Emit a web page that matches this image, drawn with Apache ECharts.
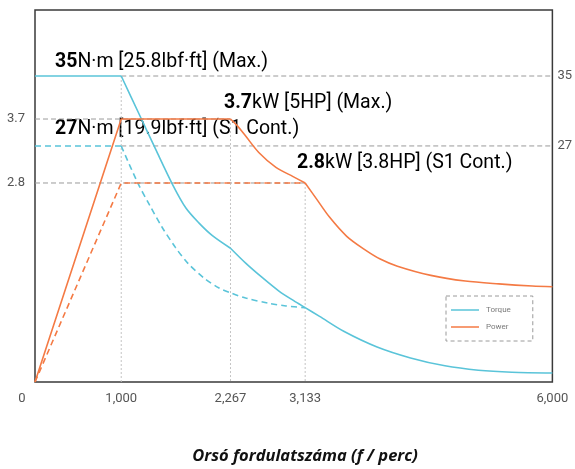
<!DOCTYPE html>
<html>
<head>
<meta charset="utf-8">
<script src="https://cdn.jsdelivr.net/npm/echarts@6/dist/echarts.min.js"></script>
<style>
  html, body { margin: 0; padding: 0; background: #fff; }
  #chart { width: 575px; height: 469px; }
</style>
</head>
<body>
<div id="chart"></div>
<script>
// Axis ticks
const rpmTicks = [0, 1000, 2267, 3133, 6000];
const powerTicks = [2.8, 3.7];
const torqueTicks = [27, 35];

// Rated values
const torqueMax = 35, torqueMaxImp = 25.8;
const torqueCont = 27, torqueContImp = 19.9;
const powerMax = 3.7, powerMaxHp = 5;
const powerCont = 2.8, powerContHp = 3.8;

// Torque (N·m) vs spindle speed (rpm), maximum
const torqueMaxFlat = [[0, 35], [1000, 35]];
const torqueMaxDrop = [[1000, 35], [1200, 30.8], [1400, 26.6], [1600, 22.5], [1750, 19.9], [1900, 18.2],
  [2050, 16.8], [2267, 15.3]];
const torqueMaxTail = [[2267, 15.3], [2443, 13.6], [2641, 11.9], [2829, 10.4], [3000, 9.3], [3133, 8.5],
  [3300, 7.5], [3580, 5.8], [3967, 4.0], [4355, 2.75], [4754, 1.85], [5142, 1.35], [5530, 1.12], [6000, 1.03]];

// Torque, S1 continuous
const torqueContFlat = [[0, 27], [1000, 27]];
const torqueContDrop = [[1000, 27], [1190, 22.8], [1331, 20.2], [1474, 17.7], [1628, 15.4], [1771, 13.6],
  [1959, 11.9], [2135, 10.75], [2267, 10.2], [2443, 9.6], [2712, 9.0], [2911, 8.7], [3133, 8.5]];

// Power (kW), maximum
const powerMaxRise = [[0, 0], [1000, 3.7], [2267, 3.7]];
const powerMaxDrop = [[2267, 3.7], [2350, 3.6], [2443, 3.46], [2595, 3.23], [2794, 3.02], [2993, 2.89], [3133, 2.8]];
const powerMaxTail = [[3133, 2.8], [3262, 2.58], [3415, 2.32], [3615, 2.05], [3815, 1.87], [4003, 1.73],
  [4203, 1.63], [4591, 1.5], [4990, 1.42], [5378, 1.38], [5766, 1.35], [6000, 1.34]];

// Power, S1 continuous
const powerContLine = [[0, 0], [1000, 2.8], [3133, 2.8]];

const CYAN = '#5ac4d9';
const ORANGE = '#f47a44';
const GUIDE = '#9a9a9a';
const DOT = '#c4c4c4';

const chart = echarts.init(document.getElementById('chart'), null, { renderer: 'canvas' });

function curve(name, data, yAxisIndex, color, dashed, smooth) {
  return {
    name, type: 'line', data, yAxisIndex,
    symbol: 'none', smooth: smooth ? 0.3 : false, z: 5,
    lineStyle: { color, width: 1.6, type: dashed ? [6, 4] : 'solid' },
    itemStyle: { color },
    silent: true, animation: false
  };
}

function guide(data, yAxisIndex, dotted) {
  return {
    name: 'guide', type: 'line', data, yAxisIndex, symbol: 'none', z: 2,
    lineStyle: dotted ? { color: DOT, width: 1, type: [2, 2] } : { color: GUIDE, width: 1, type: [5, 3] },
    silent: true, animation: false
  };
}

const labelFont = { color: '#555', fontSize: 13, fontFamily: 'Roboto' };

const option = {
  animation: false,
  grid: { left: 35, right: 22, top: 10, bottom: 87, show: true, borderColor: '#3a3a3a', borderWidth: 1.5 },
  xAxis: {
    type: 'value', min: 0, max: 6000,
    axisLine: { show: false }, axisTick: { show: false }, splitLine: { show: false },
    axisLabel: Object.assign({
      customValues: rpmTicks, margin: 10,
      // the origin label sits a little left of the corner
      formatter: v => v === 0 ? '{z|0}' : v.toLocaleString('en-US'),
      rich: { z: { color: '#555', fontSize: 13, fontFamily: 'Roboto', padding: [0, 26, 0, 0] } }
    }, labelFont)
  },
  yAxis: [
    {
      type: 'value', min: 0, max: 5.234, position: 'left',
      axisLine: { show: false }, axisTick: { show: false }, splitLine: { show: false },
      axisLabel: Object.assign({ customValues: powerTicks, margin: 10, padding: [0, 0, 8, 0] }, labelFont)
    },
    {
      type: 'value', min: 0, max: 42.55, position: 'right',
      axisLine: { show: false }, axisTick: { show: false }, splitLine: { show: false },
      axisLabel: Object.assign({ customValues: torqueTicks, margin: 5, padding: [0, 0, 9, 0] }, labelFont)
    }
  ],
  legend: {
    data: [
      { name: 'Torque', icon: 'rect', itemStyle: { color: CYAN } },
      { name: 'Power', icon: 'rect', itemStyle: { color: ORANGE } }
    ],
    orient: 'vertical', left: 446, top: 296,
    padding: [9, 22, 9, 5], itemGap: 7, itemWidth: 28, itemHeight: 1.5,
    borderColor: '#9a9a9a', borderWidth: 1, borderType: [4, 3], borderRadius: 0,
    textStyle: { fontSize: 8, color: '#7a7a7a', fontFamily: 'Roboto', lineHeight: 10, padding: [0, 0, 0, 2] },
    selectedMode: false
  },
  series: [
    guide([[1000, torqueMax], [6000, torqueMax]], 1),
    guide([[1000, torqueCont], [6000, torqueCont]], 1),
    guide([[0, powerMax], [2267, powerMax]], 0),
    guide([[0, powerCont], [3133, powerCont]], 0),
    guide([[1000, torqueMax], [1000, 0]], 1, true),
    guide([[2267, powerMax], [2267, 0]], 0, true),
    guide([[3133, powerCont], [3133, 0]], 0, true),

    curve('Torque S1', torqueContFlat, 1, CYAN, true, false),
    curve('Torque S1', torqueContDrop, 1, CYAN, true, true),
    curve('Power S1', powerContLine, 0, ORANGE, true, false),

    curve('Torque', torqueMaxFlat, 1, CYAN, false, false),
    curve('Torque', torqueMaxDrop, 1, CYAN, false, true),
    curve('Torque', torqueMaxTail, 1, CYAN, false, true),
    curve('Power', powerMaxRise, 0, ORANGE, false, false),
    curve('Power', powerMaxDrop, 0, ORANGE, false, true),
    curve('Power', powerMaxTail, 0, ORANGE, false, true)
  ]
};

chart.setOption(option);

// Rating annotations
const annoRich = {
  b: { fontSize: 19.5, fontWeight: 'bold', color: '#1b1b1b', fontFamily: 'Roboto' },
  n: { fontSize: 19.5, color: '#3b3848', fontFamily: 'Roboto' }
};
function anno(x, y, bold, rest) {
  return {
    type: 'text', x, y, silent: true,
    style: { text: '{b|' + bold + '}{n|' + rest + '}', rich: annoRich, verticalAlign: 'middle', align: 'left' }
  };
}

chart.setOption({
  graphic: [
    anno(55, 62, String(torqueMax), 'N·m [' + torqueMaxImp + 'lbf·ft] (Max.)'),
    anno(224, 103, String(powerMax), 'kW [' + powerMaxHp + 'HP] (Max.)'),
    anno(55, 129, String(torqueCont), 'N·m [' + torqueContImp + 'lbf·ft] (S1 Cont.)'),
    anno(297, 163, String(powerCont), 'kW [' + powerContHp + 'HP] (S1 Cont.)'),
    {
      type: 'text', x: 305, y: 456, silent: true,
      style: {
        text: 'Orsó fordulatszáma (f / perc)', align: 'center', verticalAlign: 'middle',
        fontSize: 16.5, fontWeight: 'bold', fontStyle: 'italic', fontFamily: 'Open Sans', fill: '#111'
      }
    }
  ]
});
</script>
</body>
</html>
